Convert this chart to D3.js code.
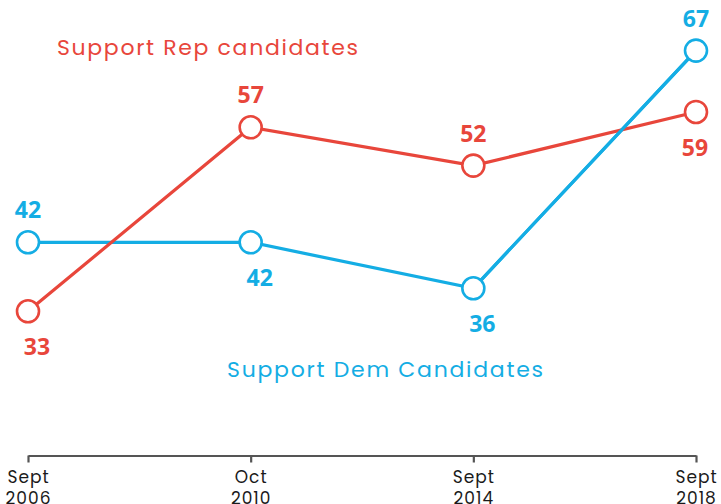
<!DOCTYPE html>
<html>
<head>
<meta charset="utf-8">
<script src="https://cdn.jsdelivr.net/npm/d3@7"></script>
<style>
  html, body { margin: 0; padding: 0; background: #fff; }
  svg { display: block; }
</style>
</head>
<body>
<svg id="chart" width="721" height="504"></svg>
<script>
const periods = ["Sept 2006", "Oct 2010", "Sept 2014", "Sept 2018"];
const tickLines = [["Sept", "2006"], ["Oct", "2010"], ["Sept", "2014"], ["Sept", "2018"]];
const repValues = [33, 57, 52, 59];
const demValues = [42, 42, 36, 67];
const seriesNames = ["Support Rep candidates", "Support Dem Candidates"];

const RED = "#e8463b", BLUE = "#14ade4";
const svg = d3.select("#chart");

const x = d3.scalePoint().domain(periods).range([28, 696]);
const y = d3.scaleLinear().domain([0, 100]).range([564.3, -202.4]);

// axis
const axisY = 455.5;
const axis = d3.axisBottom(x).tickSize(7).tickSizeOuter(0).tickFormat(() => "");
const gAxis = svg.append("g").attr("transform", `translate(0,${axisY})`).call(axis);
gAxis.select(".domain").attr("stroke", "#555").attr("stroke-width", 2.2);
gAxis.selectAll(".tick line").attr("stroke", "#555").attr("stroke-width", 2.2);
gAxis.selectAll(".tick").each(function(d, i) {
  const g = d3.select(this);
  tickLines[i].forEach((ln, k) => {
    g.append("text")
      .attr("x", 0).attr("y", 27 + k * 21)
      .attr("text-anchor", "middle")
      .attr("fill", "#1a1a1a")
      .style("font-family", "Poppins, 'Open Sans', sans-serif")
      .style("font-size", "17px")
      .style("letter-spacing", "1px")
      .text(ln);
  });
});

const line = d3.line().x((d, i) => x(periods[i])).y(d => y(d));

const series = [
  { name: seriesNames[1], values: demValues, color: BLUE, other: repValues },
  { name: seriesNames[0], values: repValues, color: RED, other: demValues }
];

series.forEach(s => {
  svg.append("path").datum(s.values).attr("d", line)
    .attr("fill", "none").attr("stroke", s.color).attr("stroke-width", 3.2);
});
// blue on top at the final crossing
svg.append("path")
  .attr("d", d3.line()([[x(periods[2]), y(demValues[2])], [x(periods[3]), y(demValues[3])]]))
  .attr("fill", "none").attr("stroke", BLUE).attr("stroke-width", 3.2);

series.forEach(s => {
  svg.append("g").selectAll("circle").data(s.values).join("circle")
    .attr("cx", (d, i) => x(periods[i])).attr("cy", d => y(d)).attr("r", 11)
    .attr("fill", "#fff").attr("stroke", s.color).attr("stroke-width", 2.6);

  svg.append("g").selectAll("text").data(s.values).join("text")
    .attr("x", (d, i) => {
      const above = d > s.other[i];
      return x(periods[i]) + (above ? 0 : (i === periods.length - 1 ? -1 : 9));
    })
    .attr("y", (d, i) => y(d) + (d > s.other[i] ? -24 : 44))
    .attr("text-anchor", "middle")
    .attr("fill", s.color)
    .style("font-family", "'Open Sans', sans-serif")
    .style("font-weight", 700)
    .style("font-size", "23px")
    .text(d => d);
});

// series titles
svg.append("text").attr("x", 57).attr("y", 55)
  .attr("fill", RED)
  .attr("textLength", 301).attr("lengthAdjust", "spacing")
  .style("font-family", "Poppins, 'Open Sans', sans-serif")
  .style("font-size", "22px")
  .text(seriesNames[0]);
svg.append("text").attr("x", 227).attr("y", 377)
  .attr("fill", BLUE)
  .attr("textLength", 316).attr("lengthAdjust", "spacing")
  .style("font-family", "Poppins, 'Open Sans', sans-serif")
  .style("font-size", "22px")
  .text(seriesNames[1]);
</script>
</body>
</html>
